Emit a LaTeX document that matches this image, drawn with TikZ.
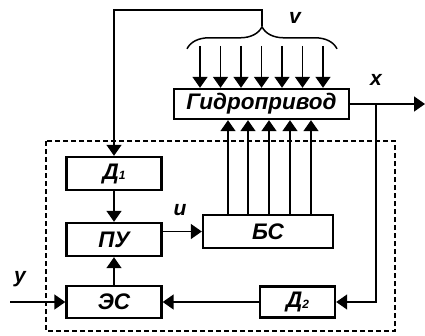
\documentclass[tikz,border=0pt]{standalone}
\usepackage{fontspec}
\setmainfont{Liberation Sans}
\usetikzlibrary{arrows.meta,decorations.pathreplacing}

\newcommand{\idx}[1]{\raisebox{-0.5pt}{\fontsize{12}{12}\selectfont #1}}

\tikzset{
  blk/.style={draw, line width=2.4pt, inner sep=0pt, font=\fontsize{22.5}{22.5}\selectfont\bfseries\itshape},
  lbl/.style={font=\fontsize{21}{21}\selectfont\bfseries\itshape},
  arr/.style={-{Triangle[length=11pt,width=15pt]}},
  dashbox/.style={line width=2.4pt, dash pattern=on 5pt off 3pt}
}

\begin{document}
\begin{tikzpicture}[x=1pt, y=-1pt, line width=1.5pt]
\useasboundingbox (0,0) rectangle (425,335);

% blocks
\node[blk, minimum width=175pt, minimum height=30pt] (gp) at (261.5,104) {Гидропривод};
\node[blk, minimum width=95pt, minimum height=33pt] (d1) at (114,173.5) {Д\idx{1}};
\node[blk, minimum width=95pt, minimum height=33pt] (pu) at (114,239.5) {ПУ};
\node[blk, minimum width=95pt, minimum height=32pt] (es) at (114,302) {ЭС};
\node[blk, minimum width=130pt, minimum height=33pt] (bs) at (268,231.5) {БС};
\node[blk, minimum width=75pt, minimum height=31pt] (d2) at (297.5,302) {Д\idx{2}};

% control unit
\draw[dashbox] (46,141) rectangle (395,331);

% disturbances
\foreach \k in {-3,...,3}
  \draw[arr] ([xshift=\k*20.5pt, yshift=42pt]gp.north) -- ([xshift=\k*20.5pt]gp.north);
\draw[decorate, decoration={brace, amplitude=22pt}]
  ([xshift=-74.5pt, yshift=39pt]gp.north) -- ([xshift=75.5pt, yshift=39pt]gp.north);
\coordinate (vtop) at (262,26);
\node[lbl] (v) at (295,18) {v};

% feedback from v to D1
\draw[arr] (vtop) -- ++(0,-16) -| (d1.north);

% forward chain
\draw[arr] (d1) -- (pu);
\draw[arr] (es) -- (pu);
\draw[arr] (bs.west -| pu.east) -- (bs.west);
\node[lbl] (u) at (180,210) {u};
\foreach \dx in {-40,-20,1,22,43}
  \draw[arr] ([xshift=\dx pt]bs.north) -- ([xshift=\dx pt]bs.north |- gp.south);

% output and measurement
\coordinate (xout) at (425,104);
\coordinate (br) at (376,104);
\draw[arr] (gp.east) -- (xout);
\node[lbl] (x) at (376,80) {x};
\draw[arr] (br) |- (d2.east);
\draw[arr] (d2.west) -- (es.east);

% input
\coordinate (yin) at (10,302);
\draw[arr] (yin) -- (es.west);
\node[lbl] (y) at (20,279) {y};
\end{tikzpicture}
\end{document}
